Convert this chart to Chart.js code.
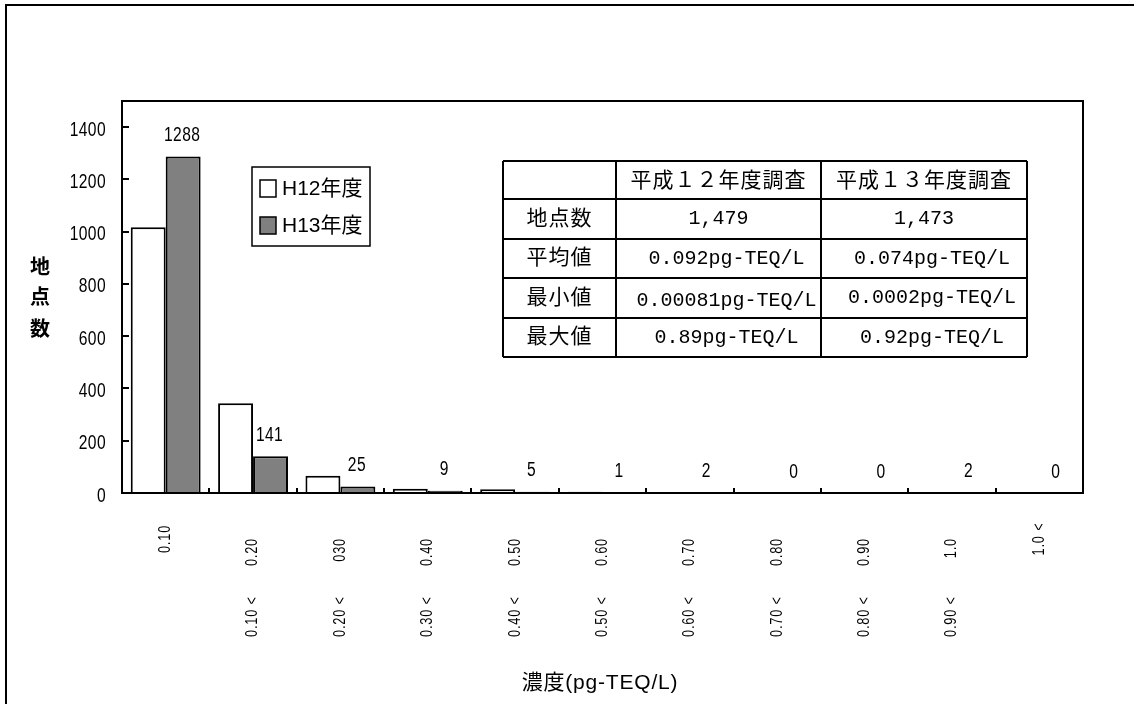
<!DOCTYPE html>
<html>
<head>
<meta charset="utf-8">
<script src="https://cdn.jsdelivr.net/npm/chart.js@4.4.1/dist/chart.umd.min.js"></script>
<style>
  html, body { margin: 0; padding: 0; background: #fff; }
  #wrap { width: 1134px; height: 704px; }
</style>
</head>
<body>
<div id="wrap"><canvas id="c" width="1134" height="704"></canvas></div>
<script>
// Concentration classes (upper bound) and their lower bounds
const categories = ['0.10', '0.20', '030', '0.40', '0.50', '0.60', '0.70', '0.80', '0.90', '1.0', '1.0 <'];
const lowerBounds = ['', '0.10 <', '0.20 <', '0.30 <', '0.40 <', '0.50 <', '0.60 <', '0.70 <', '0.80 <', '0.90 <', ''];

// Number of sites per class
const seriesNames = ['H12年度', 'H13年度'];
const h12Counts = [1017, 343, 66, 16, 14, 5, 1, 0, 1, 0, 0];
const h13Counts = [1288, 141, 25, 9, 5, 1, 2, 0, 0, 2, 0];

// Value axis
const yMin = 0;
const yMax = 1500;
const yStep = 200;

// Summary table
const tableHeader = ['', '平成１２年度調査', '平成１３年度調査'];
const tableRowNames = ['地点数', '平均値', '最小値', '最大値'];
const tableH12 = ['1,479', '0.092pg-TEQ/L', '0.00081pg-TEQ/L', '0.89pg-TEQ/L'];
const tableH13 = ['1,473', '0.074pg-TEQ/L', '0.0002pg-TEQ/L', '0.92pg-TEQ/L'];

const xTitle = '濃度(pg-TEQ/L)';
const yTitle = '地点数';

const SANS = "'Liberation Sans',Arial,sans-serif";
const JP = "'Liberation Sans','Noto Sans CJK JP',sans-serif";
const MONO = "'Liberation Mono','DejaVu Sans Mono',monospace";

// draws a horizontally condensed string
function narrowText(ctx, text, x, y, sx, align) {
  ctx.save();
  ctx.translate(x, y);
  ctx.scale(sx, 1);
  ctx.textAlign = align;
  ctx.fillText(text, 0, 0);
  ctx.restore();
}

// draws a string reading bottom-to-top, condensed along its length
function upText(ctx, text, x, y, sx, align) {
  ctx.save();
  ctx.translate(x, y);
  ctx.rotate(-Math.PI / 2);
  ctx.scale(sx, 1);
  ctx.textAlign = align;
  ctx.fillText(text, 0, 0);
  ctx.restore();
}

const decor = {
  id: 'decor',
  beforeDraw(chart) {
    const ctx = chart.ctx;
    ctx.save();
    ctx.fillStyle = '#fff';
    ctx.fillRect(0, 0, chart.width, chart.height);
    ctx.strokeStyle = '#000';
    ctx.lineWidth = 2;
    ctx.beginPath();
    ctx.moveTo(6, chart.height);
    ctx.lineTo(6, 5);
    ctx.lineTo(chart.width, 5);
    ctx.stroke();
    ctx.restore();
  },
  afterDatasetsDraw(chart) {
    const { ctx, chartArea: a, scales: { x, y } } = chart;
    ctx.save();
    ctx.strokeStyle = '#000';
    ctx.lineWidth = 2;
    ctx.strokeRect(a.left, a.top, a.right - a.left, a.bottom - a.top);

    // tick marks pointing into the plot
    ctx.beginPath();
    y.ticks.forEach(t => {
      const py = Math.round(y.getPixelForValue(t.value));
      ctx.moveTo(a.left, py);
      ctx.lineTo(a.left + 7, py);
    });
    for (let i = 0; i <= categories.length; i++) {
      const px = Math.round(x.getPixelForValue(i - 0.5));
      ctx.moveTo(px, a.bottom);
      ctx.lineTo(px, a.bottom - 5);
    }
    ctx.stroke();

    // value-axis tick labels
    ctx.fillStyle = '#000';
    ctx.font = `20px ${SANS}`;
    ctx.textBaseline = 'middle';
    ctx.letterSpacing = '0.5px';
    y.ticks.forEach(t => {
      narrowText(ctx, String(t.value), a.left - 16, y.getPixelForValue(t.value) + 3, 0.78, 'right');
    });

    // value labels above the H13 bars
    chart.getDatasetMeta(1).data.forEach((bar, i) => {
      narrowText(ctx, String(h13Counts[i]), bar.x - 1, bar.y - 21, 0.78, 'center');
    });
    ctx.letterSpacing = '0px';

    // legend
    const lx = a.left + 130, ly = a.top + 66;
    ctx.fillStyle = '#fff';
    ctx.fillRect(lx, ly, 118, 79);
    ctx.lineWidth = 1.5;
    ctx.strokeRect(lx, ly, 118, 79);
    chart.data.datasets.forEach((ds, i) => {
      const sy = ly + 13 + i * 37;
      ctx.fillStyle = ds.backgroundColor;
      ctx.fillRect(lx + 8, sy, 16, 17);
      ctx.strokeStyle = '#000';
      ctx.lineWidth = 1.5;
      ctx.strokeRect(lx + 8, sy, 16, 17);
      ctx.fillStyle = '#000';
      ctx.font = `21px ${JP}`;
      ctx.textAlign = 'left';
      ctx.textBaseline = 'middle';
      ctx.fillText(ds.label, lx + 30, sy + 9);
    });

    // summary table
    const colX = [503, 616, 821, 1027];
    const rowY = [161, 199, 239, 278, 318, 357];
    ctx.fillStyle = '#fff';
    ctx.fillRect(colX[0], rowY[0], colX[3] - colX[0], rowY[5] - rowY[0]);
    ctx.strokeStyle = '#000';
    ctx.lineWidth = 2;
    ctx.beginPath();
    colX.forEach(cx => { ctx.moveTo(cx, rowY[0]); ctx.lineTo(cx, rowY[5]); });
    rowY.forEach(ry => { ctx.moveTo(colX[0], ry); ctx.lineTo(colX[3], ry); });
    ctx.stroke();
    ctx.fillStyle = '#000';
    ctx.textAlign = 'center';
    ctx.textBaseline = 'middle';
    ctx.font = `21px ${JP}`;
    ctx.letterSpacing = '1px';
    for (let c = 1; c < 3; c++) {
      ctx.fillText(tableHeader[c], (colX[c] + colX[c + 1]) / 2, (rowY[0] + rowY[1]) / 2 + 1);
    }
    tableRowNames.forEach((nm, r) => {
      ctx.fillText(nm, (colX[0] + colX[1]) / 2, (rowY[r + 1] + rowY[r + 2]) / 2);
    });
    ctx.font = `20px ${MONO}`;
    ctx.letterSpacing = '0px';
    [tableH12, tableH13].forEach((vals, c) => {
      vals.forEach((v, r) => {
        const shift = r === 0 ? 0 : 8;
        const drop = (r === 2 && c === 0) ? 3 : 0;
        ctx.fillText(v, (colX[c + 1] + colX[c + 2]) / 2 + shift, (rowY[r + 1] + rowY[r + 2]) / 2 + drop);
      });
    });
    ctx.restore();
  },
  afterDraw(chart) {
    const { ctx, scales: { x } } = chart;
    ctx.save();
    ctx.fillStyle = '#000';
    ctx.textBaseline = 'middle';
    ctx.font = `16px ${SANS}`;
    ctx.letterSpacing = '1px';
    categories.forEach((lab, i) => {
      const cx = x.getPixelForValue(i);
      const lower = lowerBounds[i];
      if (lower) {
        upText(ctx, lab, cx, 538, 0.8, 'right');
        upText(ctx, lower, cx, 637, 0.8, 'left');
      } else {
        upText(ctx, lab, cx, 539, 0.8, 'center');
      }
    });
    ctx.letterSpacing = '0.8px';
    ctx.font = `21px ${JP}`;
    ctx.textAlign = 'center';
    ctx.fillText(xTitle, 600, 683);
    ctx.letterSpacing = '0px';
    ctx.font = `bold 20px ${JP}`;
    const ys = [268, 298, 330];
    [...yTitle].forEach((ch, i) => ctx.fillText(ch, 40, ys[i]));
    ctx.restore();
  }
};

new Chart(document.getElementById('c'), {
  type: 'bar',
  data: {
    labels: categories,
    datasets: [
      {
        label: seriesNames[0],
        data: h12Counts,
        backgroundColor: '#ffffff',
        borderColor: '#000000',
        borderWidth: 2,
        categoryPercentage: 0.8,
        barPercentage: 1.0
      },
      {
        label: seriesNames[1],
        data: h13Counts,
        backgroundColor: '#808080',
        borderColor: '#000000',
        borderWidth: 2,
        categoryPercentage: 0.8,
        barPercentage: 1.0
      }
    ]
  },
  options: {
    responsive: false,
    devicePixelRatio: 1,
    animation: false,
    layout: { padding: { left: 0, top: 101, right: 51, bottom: 0 } },
    plugins: {
      legend: { display: false },
      tooltip: { enabled: false }
    },
    scales: {
      x: {
        grid: { display: false },
        border: { display: true, color: '#000', width: 2 },
        ticks: { display: false },
        afterFit(s) { s.height = 211; }
      },
      y: {
        min: yMin,
        max: yMax,
        grid: { display: false, drawTicks: false },
        border: { display: true, color: '#000', width: 2 },
        ticks: {
          display: false,
          stepSize: yStep,
          includeBounds: false
        },
        afterFit(s) { s.width = 122; }
      }
    }
  },
  plugins: [decor]
});
</script>
</body>
</html>
